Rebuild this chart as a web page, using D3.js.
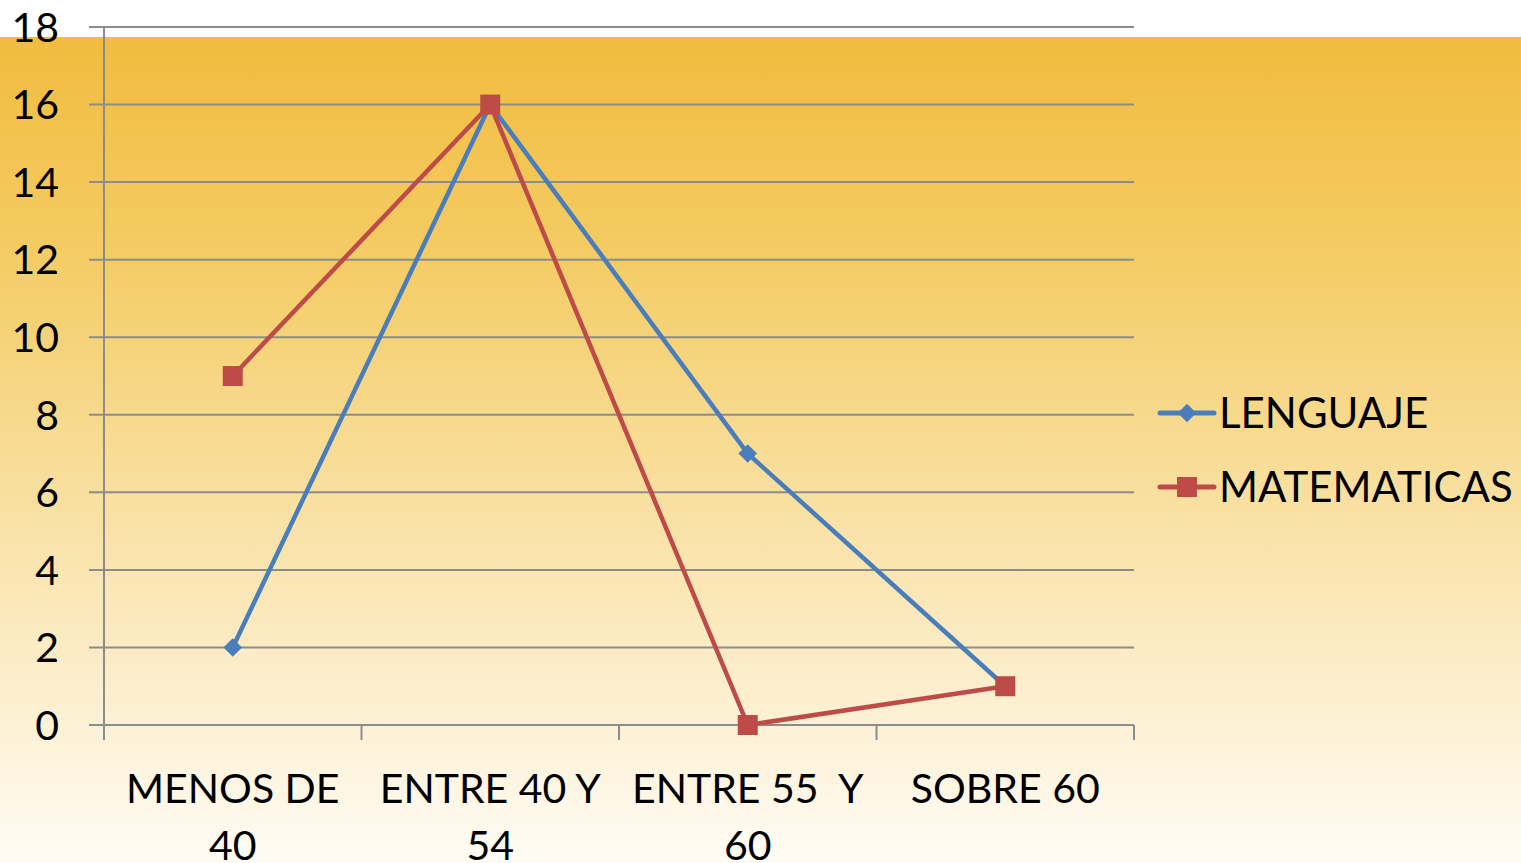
<!DOCTYPE html>
<html><head><meta charset="utf-8">
<script src="https://cdn.jsdelivr.net/npm/d3@7"></script>
<style>html,body{margin:0;padding:0;background:#fff;overflow:hidden}</style>
</head><body>
<svg id="c" width="1521" height="863"></svg>
<script>
const categories = [["MENOS DE","40"],["ENTRE 40 Y","54"],["ENTRE 55  Y","60"],["SOBRE 60"]];
const lenguaje = [2,16,7,1];
const matematicas = [9,16,0,1];
const yTicks = [0,2,4,6,8,10,12,14,16,18];
const seriesNames = ["LENGUAJE","MATEMATICAS"];
const seriesColors = ["#4a7ebb","#be4b48"];

(function(){
const svg = d3.select("#c");
const W = 1521, H = 863;
const FONT = "Lato, 'Open Sans', sans-serif";

const defs = svg.append("defs");
const g = defs.append("linearGradient").attr("id","bg").attr("x1",0).attr("y1",0).attr("x2",0).attr("y2",1);
[[0,"#f1bc3e"],[0.25,"#f4cb62"],[0.5,"#f8dc95"],[0.75,"#fcecc6"],[1,"#fffcf5"]].forEach(s=>
  g.append("stop").attr("offset",s[0]).attr("stop-color",s[1]));
svg.append("rect").attr("x",0).attr("y",0).attr("width",W).attr("height",H).attr("fill","#fff");
svg.append("rect").attr("x",0).attr("y",37).attr("width",W).attr("height",H-37).attr("fill","url(#bg)");

const pLeft = 104, pRight = 1134, pTop = 27, pBottom = 725;
const x = d3.scaleBand().domain(d3.range(categories.length)).range([pLeft,pRight]);
const y = d3.scaleLinear().domain([0,18]).range([pBottom,pTop]);

svg.append("g").selectAll("line").data(yTicks).join("line")
  .attr("x1",pLeft-15).attr("x2",pRight).attr("y1",d=>y(d)).attr("y2",d=>y(d))
  .attr("stroke","#8c8c8c").attr("stroke-width",2);
svg.append("line").attr("x1",pLeft).attr("x2",pLeft).attr("y1",pTop).attr("y2",pBottom+15)
  .attr("stroke","#8c8c8c").attr("stroke-width",2);
const edges = d3.range(1,categories.length+1).map(i=> x(i-1)+x.bandwidth());
svg.append("g").selectAll("line").data(edges).join("line")
  .attr("x1",d=>d).attr("x2",d=>d).attr("y1",pBottom).attr("y2",pBottom+15)
  .attr("stroke","#8c8c8c").attr("stroke-width",2);

svg.append("g").selectAll("text").data(yTicks).join("text")
  .attr("x",59).attr("y",d=>y(d)).attr("dy","0.36em").attr("text-anchor","end")
  .attr("font-family",FONT).attr("font-size",41).attr("fill","#000").text(d=>d);

const xl = svg.append("g").selectAll("text").data(categories).join("text")
  .attr("text-anchor","middle").attr("font-family",FONT).attr("font-size",41).attr("fill","#000")
  .style("white-space","pre");
xl.each(function(d,i){
  const t = d3.select(this);
  d.forEach((line,j)=> t.append("tspan").attr("x",x(i)+x.bandwidth()/2).attr("y",803+j*57).text(line));
});

const cx = i => x(i)+x.bandwidth()/2;
const lineGen = d3.line().x((d,i)=>cx(i)).y(d=>y(d));
[lenguaje, matematicas].forEach((vals,k)=>{
  svg.append("path").datum(vals).attr("d",lineGen).attr("fill","none")
    .attr("stroke",seriesColors[k]).attr("stroke-width",4.5).attr("stroke-linejoin","round");
});
const diamond = d3.symbol().type(d3.symbolDiamond2).size(220);
svg.append("g").selectAll("path").data(lenguaje).join("path")
  .attr("transform",(d,i)=>`translate(${cx(i)},${y(d)})`).attr("d",diamond).attr("fill",seriesColors[0]);
svg.append("g").selectAll("rect").data(matematicas).join("rect")
  .attr("x",(d,i)=>cx(i)-10).attr("y",d=>y(d)-10).attr("width",20).attr("height",20)
  .attr("fill",seriesColors[1]);

const legY = [413,487];
seriesNames.forEach((n,k)=>{
  const ly = legY[k];
  svg.append("line").attr("x1",1160).attr("x2",1214).attr("y1",ly).attr("y2",ly)
    .attr("stroke",seriesColors[k]).attr("stroke-width",5).attr("stroke-linecap","round");
  if(k===0){
    svg.append("path").attr("transform",`translate(1187,${ly})`).attr("d",diamond).attr("fill",seriesColors[0]);
  } else {
    svg.append("rect").attr("x",1177).attr("y",ly-10).attr("width",20).attr("height",20).attr("fill",seriesColors[1]);
  }
  svg.append("text").attr("x",1219).attr("y",ly).attr("dy","0.36em")
    .attr("font-family",FONT).attr("font-size",42).attr("fill","#000").text(n);
});
})();
</script>
</body></html>
